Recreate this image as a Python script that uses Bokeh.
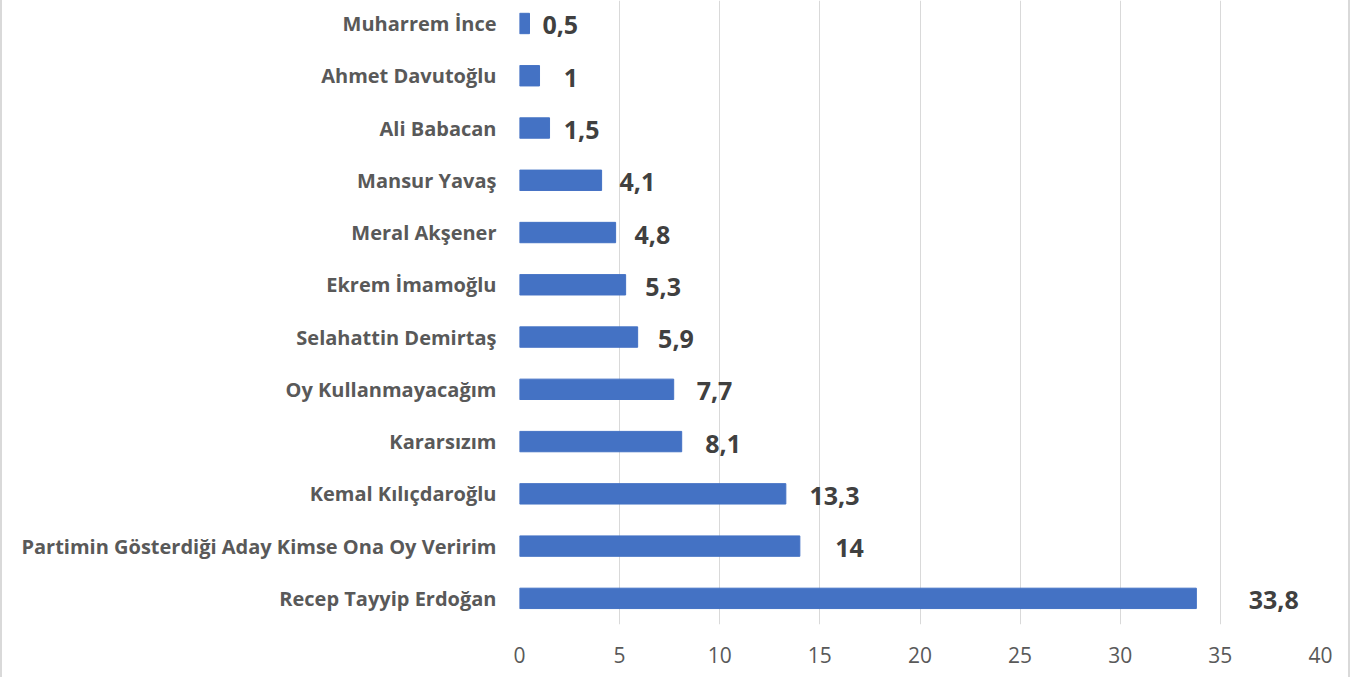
from bokeh.plotting import figure
from bokeh.models import Range1d, FixedTicker, ColumnDataSource
from bokeh.embed import file_html
from bokeh.resources import INLINE
from bokeh.core.properties import value

# Data (bottom to top)
categories = [
    "Recep Tayyip Erdoğan",
    "Partimin Gösterdiği Aday Kimse Ona Oy Veririm",
    "Kemal Kılıçdaroğlu",
    "Kararsızım",
    "Oy Kullanmayacağım",
    "Selahattin Demirtaş",
    "Ekrem İmamoğlu",
    "Meral Akşener",
    "Mansur Yavaş",
    "Ali Babacan",
    "Ahmet Davutoğlu",
    "Muharrem İnce",
]
values = [33.8, 14, 13.3, 8.1, 7.7, 5.9, 5.3, 4.8, 4.1, 1.5, 1, 0.5]
value_labels = ["33,8", "14", "13,3", "8,1", "7,7", "5,9", "5,3", "4,8", "4,1", "1,5", "1", "0,5"]
x_ticks = [0, 5, 10, 15, 20, 25, 30, 35, 40]

TEXT = "#595959"
VALUE_TEXT = "#404040"
BAR = "#4472C4"
GRID = "#D9D9D9"

pos = list(range(len(categories)))
src = ColumnDataSource(dict(
    y=pos,
    v=values,
    lab=value_labels,
    lx=[v * 1.07 + 1.5 for v in values],
))

p = figure(
    width=1350, height=677,
    x_range=Range1d(0, 40),
    y_range=Range1d(-0.5, 11.44),
    output_backend="svg", toolbar_location=None,
    min_border_left=517, min_border_right=32,
    min_border_top=0, min_border_bottom=53,
)
p.styles = {"border-left": "2px solid #D9D9D9", "border-right": "2px solid #D9D9D9"}

p.hbar(y="y", right="v", left=0, height=0.39, source=src, color=BAR)
p.text(x="lx", y="y", text="lab", source=src,
       text_font=value("Open Sans"), text_font_style="bold",
       text_font_size="25px", text_color=VALUE_TEXT,
       text_align="center", text_baseline="middle", y_offset=2)

p.outline_line_color = None
p.background_fill_color = "white"
p.border_fill_color = "white"

p.xaxis.ticker = FixedTicker(ticks=x_ticks)
p.xaxis.axis_line_color = None
p.xaxis.major_tick_line_color = None
p.xaxis.minor_tick_line_color = None
p.xaxis.major_label_text_font = "Open Sans"
p.xaxis.major_label_text_font_size = "21px"
p.xaxis.major_label_text_color = TEXT
p.xaxis.major_label_standoff = 16

p.yaxis.ticker = FixedTicker(ticks=pos)
p.yaxis.major_label_overrides = {i: c for i, c in zip(pos, categories)}
p.yaxis.axis_line_color = None
p.yaxis.major_tick_line_color = None
p.yaxis.minor_tick_line_color = None
p.yaxis.major_label_text_font = "Open Sans"
p.yaxis.major_label_text_font_style = "bold"
p.yaxis.major_label_text_font_size = "20px"
p.yaxis.major_label_text_color = TEXT
p.yaxis.major_label_standoff = 17

p.xgrid.ticker = FixedTicker(ticks=x_ticks)
p.xgrid.grid_line_color = GRID
p.xgrid.grid_line_width = 1
p.ygrid.grid_line_color = None

open("out.html", "w").write(file_html(p, INLINE))
